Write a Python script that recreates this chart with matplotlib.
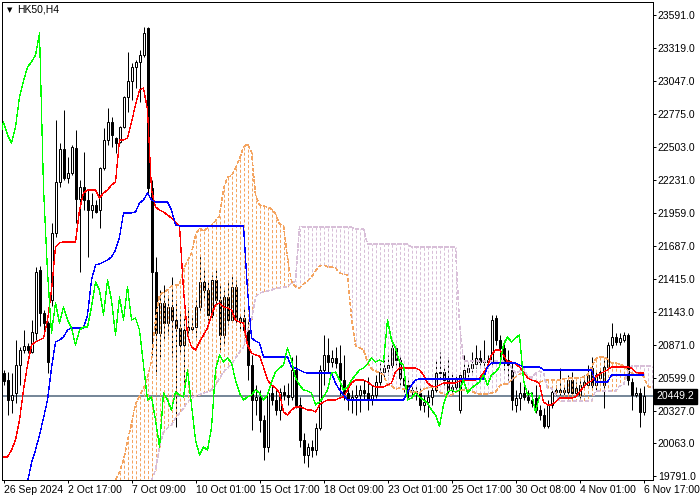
import numpy as np
import matplotlib
matplotlib.use('Agg')
import matplotlib.pyplot as plt
import matplotlib.transforms as mtransforms

# HK50, H4 candles (26 Sep 2024 .. 6 Nov 2024 17:00)
opens = [20640, 20582, 20417, 20475, 20706, 20830, 20863, 20813, 20970, 21489,
         21135, 21052, 21242, 21794, 22214, 22486, 22247, 22289, 22495, 22074,
         22173, 22066, 21984, 22025, 21984, 22330, 22561, 22709, 22577, 22544,
         22668, 22915, 23047, 23162, 23204, 23261, 23484, 22165, 21472, 20970,
         21217, 21052, 21184, 21077, 21011, 20871, 20994, 21003, 21019, 21184,
         21390, 21324, 21118, 21407, 21242, 20953, 21266, 21077, 21349, 21060,
         21093, 20994, 20706, 20417, 20442, 20253, 20030, 20475, 20417, 20335,
         20483, 20459, 20442, 20665, 20377, 20088, 19964, 20030, 20005, 20187,
         20665, 20789, 20731, 20764, 20723, 20582, 20475, 20417, 20442, 20459,
         20500, 20475, 20417, 20459, 20566, 20648, 20681, 20706, 20846, 20747,
         20599, 20541, 20500, 20492, 20475, 20377, 20401, 20442, 20500, 20640,
         20648, 20582, 20500, 20525, 20335, 20599, 20648, 20681, 20714, 20764,
         20731, 20747, 20731, 21093, 20912, 20846, 20747, 20665, 20377, 20434,
         20475, 20442, 20417, 20434, 20335, 20294, 20203, 20377, 20483, 20500,
         20483, 20483, 20582, 20475, 20459, 20541, 20541, 20681, 20541, 20599,
         20541, 20690, 20871, 20937, 20896, 20912, 20953, 20566, 20459, 20475,
         20319]
highs = [20665, 20648, 20640, 20912, 20854, 20994, 20887, 21077, 21514, 21522,
         21159, 21069, 21876, 22725, 22536, 22808, 22420, 22519, 22643, 22231,
         22462, 22148, 22124, 22066, 22338, 22659, 22824, 22750, 22585, 22676,
         22923, 23286, 23195, 23220, 23302, 23492, 23492, 22231, 21596, 21324,
         21366, 21283, 21431, 21242, 21135, 21093, 21184, 21118, 21242, 21613,
         21489, 21407, 21448, 21489, 21366, 21324, 21407, 21448, 21407, 21118,
         21176, 21077, 20789, 20541, 20500, 20294, 20500, 20541, 20516, 20516,
         20541, 20558, 20772, 20789, 20442, 20145, 20063, 20088, 20228, 20706,
         20953, 20929, 20830, 20854, 20871, 20789, 20516, 20500, 20541, 20541,
         20582, 20607, 20541, 20624, 20723, 20747, 20789, 20887, 20871, 20789,
         20648, 20582, 20558, 20541, 20516, 20459, 20500, 20541, 20747, 20813,
         20706, 20772, 20648, 20624, 20640, 20789, 20731, 20813, 20871, 20830,
         20912, 20789, 21118, 21118, 20953, 20912, 20830, 20731, 20500, 20566,
         20541, 20500, 20483, 20541, 20377, 20351, 20418, 20516, 20541, 20681,
         20541, 20624, 20648, 20566, 20582, 20624, 20706, 20772, 20665, 20681,
         20747, 20896, 21052, 20970, 20970, 20978, 20970, 20599, 20525, 20516,
         20533]
lows = [20541, 20294, 20310, 20393, 20541, 20805, 20805, 20805, 20912, 21027,
        20994, 20640, 21192, 21761, 22173, 22231, 22206, 22272, 21876, 21472,
        21984, 21596, 21918, 21959, 21835, 22313, 22519, 22503, 22453, 22536,
        22660, 22791, 22890, 22989, 22874, 23245, 22107, 20789, 20624, 20772,
        20912, 20953, 20772, 20195, 20805, 20500, 20953, 20970, 20937, 21143,
        21242, 21077, 21093, 21201, 20830, 20871, 21036, 21060, 21036, 20994,
        20953, 20582, 20170, 20294, 20154, 19923, 19989, 20377, 20294, 20253,
        20417, 20377, 20417, 20351, 20030, 19898, 19865, 19948, 19964, 20170,
        20541, 20648, 20690, 20681, 20459, 20417, 20335, 20310, 20294, 20319,
        20417, 20335, 20377, 20434, 20541, 20599, 20624, 20665, 20706, 20541,
        20483, 20434, 20434, 20417, 20335, 20319, 20278, 20377, 20483, 20599,
        20541, 20459, 20459, 20483, 20310, 20541, 20599, 20648, 20681, 20706,
        20681, 20681, 20706, 20871, 20747, 20665, 20582, 20335, 20319, 20335,
        20417, 20393, 20360, 20310, 20253, 20187, 20187, 20351, 20459, 20459,
        20451, 20467, 20451, 20451, 20434, 20516, 20525, 20500, 20500, 20566,
        20351, 20665, 20846, 20871, 20871, 20896, 20541, 20335, 20442, 20195,
        20294]
closes = [20574, 20417, 20459, 20706, 20830, 20863, 20830, 20978, 21472, 21135,
          21052, 20731, 21794, 22214, 22486, 22247, 22289, 22503, 22074, 22173,
          22066, 21984, 22025, 21967, 22330, 22561, 22709, 22602, 22536, 22668,
          22915, 23047, 23162, 23204, 23261, 23442, 22165, 21472, 20970, 21217,
          21052, 21184, 21077, 21011, 20871, 20994, 21019, 21019, 21184, 21390,
          21324, 21118, 21407, 21242, 20953, 21266, 21077, 21349, 21077, 21093,
          20994, 20706, 20417, 20442, 20253, 20030, 20475, 20417, 20335, 20483,
          20459, 20442, 20665, 20377, 20088, 19964, 20030, 20005, 20187, 20665,
          20789, 20731, 20764, 20723, 20582, 20475, 20417, 20442, 20459, 20500,
          20475, 20417, 20459, 20566, 20648, 20681, 20706, 20846, 20747, 20599,
          20541, 20500, 20492, 20475, 20377, 20401, 20442, 20500, 20640, 20648,
          20582, 20500, 20525, 20582, 20624, 20665, 20681, 20714, 20764, 20731,
          20747, 20731, 21077, 20912, 20846, 20731, 20706, 20417, 20434, 20475,
          20442, 20417, 20393, 20335, 20294, 20203, 20377, 20483, 20500, 20483,
          20500, 20582, 20475, 20516, 20541, 20566, 20624, 20541, 20624, 20648,
          20690, 20871, 20937, 20896, 20929, 20953, 20582, 20459, 20475, 20319,
          20449.2]

# Ichimoku lines
tenkan = [19948, 19948, 20005, 20088, 20253, 20500, 20706, 20871, 20896, 20912,
          20929, 21077, 21324, 21678, 21712, 21720, 21720, 21720, 21720, 21984,
          22124, 22148, 22148, 22148, 22082, 22124, 22148, 22190, 22214, 22561,
          22561, 22577, 22709, 22849, 22973, 22989, 22808, 22148, 22008, 21984,
          21967, 21943, 21918, 21885, 21852, 21324, 20953, 20854, 20830, 20896,
          20953, 21011, 21118, 21201, 21217, 21184, 21176, 21159, 21077, 21060,
          21052, 20871, 20805, 20789, 20780, 20690, 20582, 20541, 20516, 20475,
          20319, 20294, 20335, 20360, 20360, 20351, 20335, 20335, 20319, 20377,
          20401, 20417, 20417, 20417, 20434, 20442, 20500, 20558, 20582, 20582,
          20582, 20566, 20541, 20525, 20525, 20525, 20541, 20558, 20648, 20681,
          20681, 20681, 20681, 20681, 20665, 20624, 20558, 20533, 20525, 20541,
          20558, 20558, 20558, 20558, 20574, 20582, 20582, 20582, 20582, 20599,
          20640, 20690, 20789, 20830, 20830, 20789, 20731, 20731, 20714, 20690,
          20648, 20599, 20582, 20574, 20550, 20401, 20377, 20377, 20401, 20434,
          20434, 20434, 20434, 20442, 20483, 20525, 20558, 20574, 20607, 20632,
          20648, 20665, 20690, 20690, 20690, 20690, 20690, 20681, 20648, 20640,
          20640]
kijun = ([19428, 19469, 19511, 19552, 19593, 19659, 19742, 19898, 20005, 20129,
          20269, 20417, 20681, 20896, 20912, 20937, 20994, 21011, 21011, 21011,
          21011, 21118, 21407, 21531, 21539, 21555, 21571, 21596, 21654, 21761,
          21959, 21959, 21959, 21967, 22041, 22066, 22124, 22066, 22049, 22049,
          22049, 22049, 21984, 21860]
         + [21852] * 17 + [21324, 20929, 20904, 20887] + [20772] * 7
         + [20690, 20681, 20665, 20648] + [20640] * 7 + [20558, 20500, 20459]
         + [20417] * 15 + [20483, 20541, 20582] + [20591] * 17 + [20690]
         + [20723] * 7 + [20706] + [20690] * 5 + [20665] * 13 + [20566] * 4
         + [20624] * 9)

# senkou spans, already shifted 26 bars ahead (first value belongs to bar 26)
span_a = [19692, 19709, 19758, 19824, 19923, 20079, 20220, 20384, 20450, 20516,
          20599, 20747, 21077, 21283, 21308, 21324, 21357, 21366, 21366, 21497,
          21563, 21629, 21778, 21835, 21810, 21835, 21860, 21893, 21934, 22157,
          22256, 22264, 22330, 22404, 22503, 22528, 22462, 22107, 22025, 22017,
          22008, 21992, 21951, 21868, 21852, 21588, 21398, 21349, 21341, 21374,
          21398, 21431, 21481, 21522, 21531, 21514, 21514, 21506, 21464, 21456,
          21448, 21093, 20863, 20846, 20830, 20731, 20673, 20656, 20640, 20624,
          20541, 20533, 20508, 20516, 20508, 20500, 20483, 20483, 20475, 20508,
          20516, 20525, 20525, 20483, 20467, 20451, 20459, 20483, 20500, 20500,
          20500, 20492, 20475, 20467, 20467, 20467, 20475, 20483, 20533, 20550,
          20550, 20582, 20607, 20632, 20640, 20615, 20582, 20574, 20566, 20574,
          20582, 20582, 20582, 20582, 20591, 20599, 20599, 20599, 20599, 20607,
          20624, 20690, 20755, 20772, 20772, 20755, 20723, 20723, 20714, 20698,
          20665, 20640, 20632, 20632, 20615, 20533, 20516]
span_b = ([19099, 19140, 19181, 19222, 19263, 19346, 19428, 19511, 19593, 19634,
           19692, 19758, 19840, 20030, 20154, 20187, 20211, 20269, 20310, 20351,
           20401, 20434, 20451, 20459, 20475, 20483, 20500, 20541, 20599, 20648,
           20681, 20714, 20764, 20813, 20854, 20994, 21077, 21266, 21299, 21308,
           21316, 21324, 21341, 21341, 21349, 21349, 21382, 21398, 21852]
          + [21843] * 13 + [21827] * 3 + [21703] * 11 + [21679] * 12 + [21044]
          + [20739] * 12
          + [20681, 20640, 20656, 20681, 20615, 20599, 20640, 20656, 20640,
             20516, 20516, 20467]
          + [20409] * 9 + [20492] * 6 + [20533, 20541, 20640] + [20698] * 6)

date_labels = ['26 Sep 2024', '2 Oct 17:00', '7 Oct 09:00', '10 Oct 01:00',
               '15 Oct 17:00', '18 Oct 09:00', '23 Oct 01:00', '25 Oct 17:00',
               '30 Oct 08:00', '4 Nov 01:00', '6 Nov 17:00']
price_ticks = [23591, 23319, 23047, 22775, 22503, 22231, 21959, 21687,
               21415, 21143, 20871, 20599, 20327, 20063, 19791]

plt.rcParams['font.family'] = ['Liberation Sans', 'DejaVu Sans']
plt.rcParams['lines.scale_dashes'] = False

o = np.array(opens, float)
h = np.array(highs, float)
l = np.array(lows, float)
c = np.array(closes, float)
n = len(c)
x = np.arange(n)
xs = np.arange(26, 26 + len(span_a))
sa = np.array(span_a, float)
sb = np.array(span_b, float)

thin = 0.2   # hairline, no antialiasing -> crisp 1 px (MT4 look)
px1 = 0.72   # exactly one pixel at dpi 100
fig = plt.figure(figsize=(7, 5), dpi=100)
ax = fig.add_axes([2 / 700, 20 / 500, 651 / 700, 478 / 500])

# candles (bar centres sit on pixel centres, 4 px apart)
ax.vlines(x, l, h, color='black', lw=px1, zorder=2)
bull = c >= o
ax.bar(x, np.abs(c - o), bottom=np.minimum(o, c), width=0.5,
       color=np.where(bull, 'white', 'black'), edgecolor='black', lw=px1,
       zorder=3)

# kumo drawn as dotted histogram
dots = (0, (2.2, 1.5))
kumo_col = np.where(sa >= sb, '#F4A460', '#D8BFD8')
ax.vlines(xs, sa, sb, colors=kumo_col, lw=px1, linestyles=[dots], zorder=4)
ax.plot(xs, sa, color='#F4A460', lw=thin, ls=dots, antialiased=False, zorder=4)
ax.plot(xs, sb, color='#D8BFD8', lw=thin, ls=dots, antialiased=False, zorder=4)

ax.plot(x, tenkan, color='red', lw=thin, antialiased=False, zorder=5)
ax.plot(x, kijun, color='blue', lw=thin, antialiased=False, zorder=5)
# chikou: close plotted 26 bars back
ax.plot(x - 26, c, color='#00FF00', lw=thin, antialiased=False, zorder=5)

# bid line + price label
last = c[-1]
ax.axhline(last, color='#778899', lw=thin, antialiased=False, zorder=1.5)
trans = mtransforms.blended_transform_factory(ax.transAxes, ax.transData)
ax.annotate('%.1f' % last, xy=(1, last), xycoords=trans, xytext=(2.5, 0),
            textcoords='offset points', va='center', ha='left', fontsize=7.5,
            color='white', annotation_clip=False,
            bbox=dict(boxstyle='square,pad=0.25', fc='black', ec='black'))

ax.set_xlim(-0.375, 162.375)
ax.set_ylim(19758, 23698)

ax.yaxis.tick_right()
ax.set_yticks(price_ticks)
ax.set_yticklabels(['%.1f' % v for v in price_ticks])
ax.set_xticks(np.arange(0, n, 16))
ax.set_xticklabels(date_labels, ha='left')
ax.tick_params(axis='both', labelsize=7.5, length=2.5, width=px1,
               direction='out', colors='black', pad=1)
for s in ax.spines.values():
    s.set_linewidth(px1)
    s.set_color('black')

fig.text(7 / 700, 1 - 10 / 500, '\u25bc', fontsize=5, va='center', ha='left',
         family='DejaVu Sans')
fig.text(17 / 700, 1 - 10 / 500, 'HK50,H4', fontsize=7.5, va='center', ha='left')

fig.savefig('out.png', dpi=100, facecolor='white')
